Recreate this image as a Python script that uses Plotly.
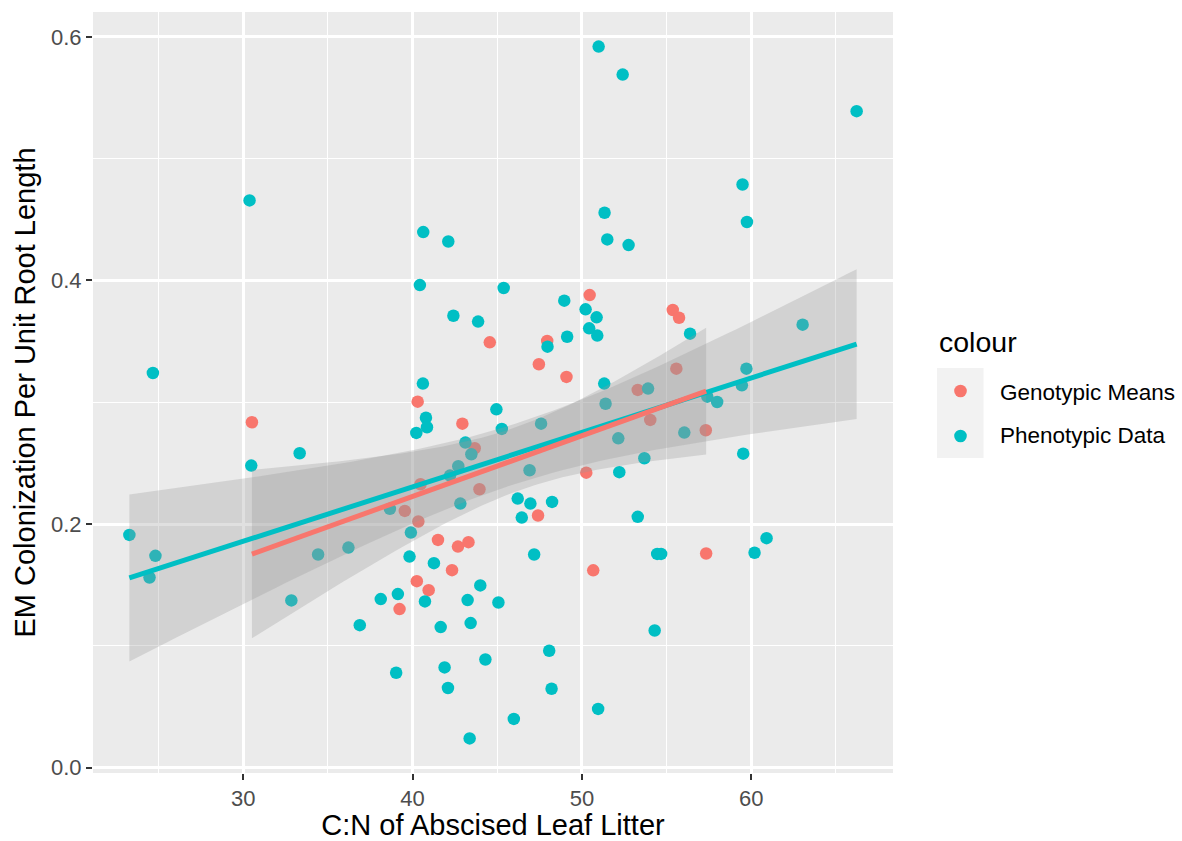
import math
import numpy as np
import plotly.graph_objects as go

# C:N of abscised leaf litter vs EM colonization per unit root length
geno_cn = [30.51, 50.46, 44.56, 47.95, 47.46, 49.09, 40.30, 42.94, 43.67, 50.26,
           40.47, 39.54, 40.34, 43.95, 47.41, 55.37, 55.74, 55.58, 53.30, 54.04,
           57.32, 41.50, 42.68, 43.30, 50.67, 42.33, 40.25, 40.95, 39.23, 57.34]
geno_em = [0.2836, 0.3880, 0.3492, 0.3503, 0.3312, 0.3208, 0.3005, 0.2824, 0.2622, 0.2422,
           0.2327, 0.2108, 0.2021, 0.2286, 0.2070, 0.3757, 0.3694, 0.3276, 0.3101, 0.2855,
           0.2770, 0.1870, 0.1815, 0.1851, 0.1620, 0.1621, 0.1531, 0.1457, 0.1302, 0.1758]

pheno_cn = [30.37, 50.99, 52.41, 40.63, 42.11, 51.34, 51.50, 52.76, 66.23, 59.49,
            59.75, 24.66, 30.47, 33.33,
            40.43, 45.38, 48.96, 42.41, 43.87, 50.22, 50.87, 50.43, 50.91, 47.97,
            49.13, 40.61, 51.32, 51.40, 40.79, 40.85, 40.22, 44.95, 45.27, 47.59,
            52.15, 43.12, 43.47, 42.70, 42.21, 46.91, 52.21, 38.66, 39.90, 42.82,
            46.21, 46.96, 48.24, 46.45,
            56.39, 63.04, 59.72, 59.45, 53.91, 57.41, 57.99, 56.05, 59.53, 53.69,
            53.30,
            23.27, 24.81, 24.46, 34.42, 36.21, 32.84, 36.88,
            47.18, 39.82, 41.26, 44.00, 38.12, 39.13, 40.73, 43.25, 45.07, 41.66,
            43.43, 48.07, 39.03, 41.89, 44.30, 42.09, 48.21, 50.96, 45.98, 43.37,
            54.45, 54.68, 60.20, 60.91, 54.30]
pheno_em = [0.4657, 0.5920, 0.5690, 0.4397, 0.4320, 0.4556, 0.4337, 0.4290, 0.5390, 0.4788,
            0.4480, 0.3240, 0.2480, 0.2581,
            0.3962, 0.3938, 0.3834, 0.3710, 0.3662, 0.3763, 0.3697, 0.3607, 0.3547, 0.3456,
            0.3538, 0.3153, 0.3153, 0.2988, 0.2873, 0.2795, 0.2748, 0.2942, 0.2781, 0.2824,
            0.2704, 0.2669, 0.2573, 0.2475, 0.2398, 0.2442, 0.2426, 0.2125, 0.1930, 0.2168,
            0.2209, 0.2168, 0.2182, 0.2053,
            0.3563, 0.3637, 0.3276, 0.3139, 0.3112, 0.3046, 0.3002, 0.2751, 0.2578, 0.2540,
            0.2059,
            0.1911, 0.1739, 0.1561, 0.1750, 0.1807, 0.1373, 0.1170,
            0.1750, 0.1733, 0.1679, 0.1496, 0.1384, 0.1425, 0.1365, 0.1376, 0.1356, 0.1154,
            0.1187, 0.0960, 0.0779, 0.0823, 0.0888, 0.0654, 0.0648, 0.0482, 0.0400, 0.0240,
            0.1755, 0.1755, 0.1764, 0.1884, 0.1126]

series_names = ["Genotypic Means", "Phenotypic Data"]
x_ticks = [30, 40, 50, 60]
y_ticks = [0.0, 0.2, 0.4, 0.6]
y_tick_labels = ["0.0", "0.2", "0.4", "0.6"]

RED = "#F8766D"
CYAN = "#00BFC4"
FONT = "Liberation Sans, Arial, Helvetica, sans-serif"


def t_quantile(p, dof):
    """Student-t quantile by numeric inversion of the CDF."""
    c = math.exp(math.lgamma((dof + 1) / 2) - math.lgamma(dof / 2)) / math.sqrt(dof * math.pi)
    t = np.linspace(0, 10, 200001)
    pdf = c * (1 + t ** 2 / dof) ** (-(dof + 1) / 2)
    cdf = 0.5 + np.concatenate([[0], np.cumsum((pdf[1:] + pdf[:-1]) / 2 * np.diff(t))])
    return float(np.interp(p, cdf, t))


def lm_smooth(x, y, n=80, level=0.95):
    """Linear fit with a confidence band, evaluated on a grid across x."""
    x = np.asarray(x, float)
    y = np.asarray(y, float)
    slope, intercept = np.polyfit(x, y, 1)
    grid = np.linspace(x.min(), x.max(), n)
    fit = intercept + slope * grid
    resid = y - (intercept + slope * x)
    dof = len(x) - 2
    s = math.sqrt(np.sum(resid ** 2) / dof)
    sxx = np.sum((x - x.mean()) ** 2)
    se = s * np.sqrt(1 / len(x) + (grid - x.mean()) ** 2 / sxx)
    tq = t_quantile(0.5 + level / 2, dof)
    return grid, fit, fit - tq * se, fit + tq * se


fig = go.Figure()

groups = [(geno_cn, geno_em, RED), (pheno_cn, pheno_em, CYAN)]

# points first, then the confidence ribbons, then the fitted lines
for (xs, ys, col), name in zip(groups, series_names):
    fig.add_trace(go.Scatter(x=xs, y=ys, mode="markers", name=name,
                             marker=dict(color=col, size=12.5, line=dict(width=0)),
                             showlegend=False))

fits = [lm_smooth(xs, ys) for xs, ys, _ in groups]

for (grid, fit, lo, hi), name in zip(fits, series_names):
    fig.add_trace(go.Scatter(x=np.concatenate([grid, grid[::-1]]),
                             y=np.concatenate([hi, lo[::-1]]),
                             mode="lines", fill="toself",
                             fillcolor="rgba(153,153,153,0.3)",
                             line=dict(width=0), hoverinfo="skip",
                             showlegend=False))

for idx in (1, 0):
    grid, fit, lo, hi = fits[idx]
    fig.add_trace(go.Scatter(x=grid, y=fit, mode="lines",
                             line=dict(color=groups[idx][2], width=5),
                             showlegend=False))

# axis ranges with 5% expansion on each side
all_x = np.array(geno_cn + pheno_cn)
all_y = np.array(geno_em + pheno_em)
xpad = 0.05 * (all_x.max() - all_x.min())
ypad = 0.05 * (all_y.max() - all_y.min())

W, H = 1182, 841
L, R, T, B = 93, 289, 12, 68


def px(xpix):
    return (xpix - L) / (W - L - R)


def py(ypix):
    return (H - B - ypix) / (H - T - B)


axis_common = dict(
    showgrid=True, gridcolor="white", gridwidth=2.6,
    zeroline=False, showline=False,
    ticks="outside", ticklen=6, tickwidth=2, tickcolor="#333333",
    tickfont=dict(family=FONT, size=22, color="#4D4D4D"),
)

fig.update_xaxes(
    range=[all_x.min() - xpad, all_x.max() + xpad],
    tickvals=x_ticks, ticktext=[str(v) for v in x_ticks],
    minor=dict(dtick=5, tick0=0, showgrid=True, gridcolor="white", gridwidth=1.3, ticks=""),
    title=dict(text="C:N of Abscised Leaf Litter", font=dict(family=FONT, size=29, color="black"),
               standoff=5),
    **axis_common,
)
fig.update_yaxes(
    range=[all_y.min() - ypad, all_y.max() + ypad],
    tickvals=y_ticks, ticktext=y_tick_labels,
    minor=dict(dtick=0.1, tick0=0, showgrid=True, gridcolor="white", gridwidth=1.3, ticks=""),
    title=dict(text="EM Colonization Per Unit Root Length", font=dict(family=FONT, size=29, color="black"),
               standoff=6),
    **axis_common,
)

# legend: title, grey key boxes, coloured dots, labels
shapes = [
    dict(type="rect", xref="paper", yref="paper",
         x0=px(937), x1=px(983.5), y0=py(368), y1=py(413), fillcolor="#F2F2F2", line=dict(width=0), layer="below"),
    dict(type="rect", xref="paper", yref="paper",
         x0=px(937), x1=px(983.5), y0=py(413), y1=py(458), fillcolor="#F2F2F2", line=dict(width=0), layer="below"),
]
key_rows = [391, 436]
for ycen, (_, _, col) in zip(key_rows, groups):
    shapes.append(dict(type="circle", xref="paper", yref="paper",
                       x0=px(960.5 - 6.3), x1=px(960.5 + 6.3), y0=py(ycen + 6.3), y1=py(ycen - 6.3),
                       fillcolor=col, line=dict(width=0)))

annotations = [
    dict(text="colour", xref="paper", yref="paper", x=px(937), y=py(342),
         xanchor="left", yanchor="middle", showarrow=False,
         font=dict(family=FONT, size=28.5, color="black")),
]
for ycen, name in zip([392, 435.5], series_names):
    annotations.append(dict(text=name, xref="paper", yref="paper", x=px(998), y=py(ycen),
                            xanchor="left", yanchor="middle", showarrow=False,
                            font=dict(family=FONT, size=22.5, color="black")))

fig.update_layout(
    width=W, height=H,
    margin=dict(l=L, r=R, t=T, b=B, autoexpand=False),
    plot_bgcolor="#EBEBEB", paper_bgcolor="white",
    font=dict(family=FONT),
    showlegend=False,
    shapes=shapes, annotations=annotations,
)

fig.write_html("out.html")
